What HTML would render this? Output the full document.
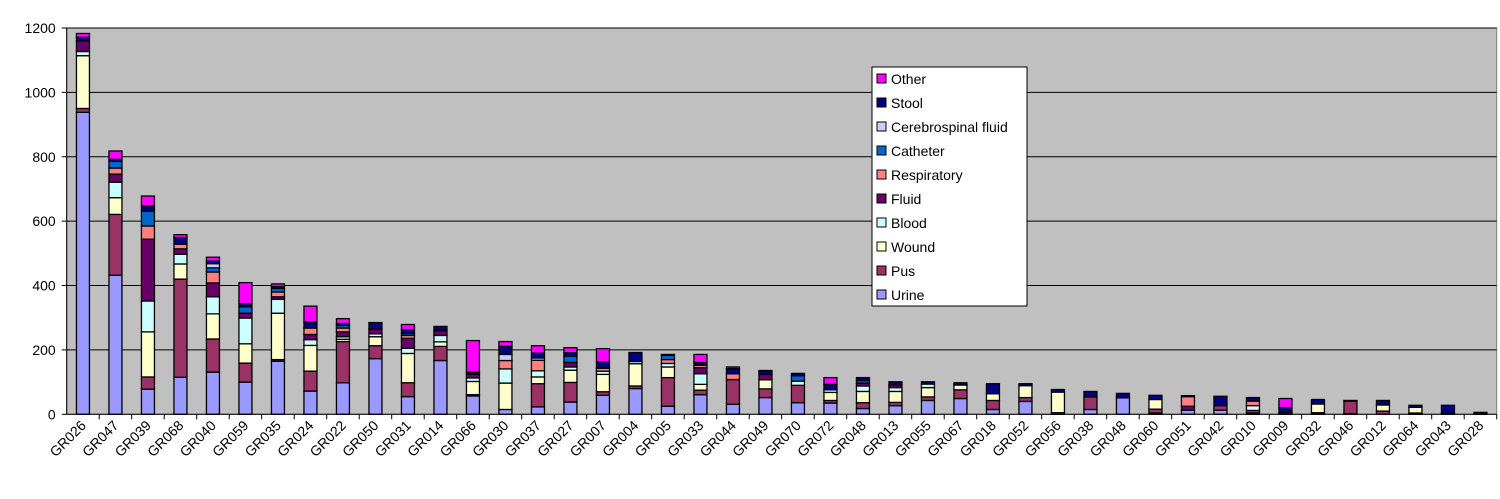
<!DOCTYPE html>
<html><head><meta charset="utf-8"><style>
body{margin:0;background:#fff;}
svg text{font-family:"Liberation Sans",Arial,sans-serif;font-size:14px;fill:#000;}
</style></head><body>
<svg id="chart" width="1500" height="494" viewBox="0 0 1500 494" xmlns="http://www.w3.org/2000/svg">
<rect x="66.7" y="28" width="1430" height="386.3" fill="#C0C0C0" stroke="#808080" stroke-width="1"/>
<g id="grid"></g><g id="bars"></g><g id="axes"></g><g id="legend"></g>
</svg>
<script>
const categories=["GR026","GR047","GR039","GR068","GR040","GR059","GR035","GR024","GR022","GR050","GR031","GR014","GR066","GR030","GR037","GR027","GR007","GR004","GR005","GR033","GR044","GR049","GR070","GR072","GR048","GR013","GR055","GR067","GR018","GR052","GR056","GR038","GR048","GR060","GR051","GR042","GR010","GR009","GR032","GR046","GR012","GR064","GR043","GR028"];
const seriesNames=["Urine","Pus","Wound","Blood","Fluid","Respiratory","Catheter","Cerebrospinal fluid","Stool","Other"];
const seriesColors=["#9999FF","#993366","#FFFFCC","#CCFFFF","#660066","#FF8080","#0066CC","#CCCCFF","#000080","#FF00FF"];
const urine=[938,432,78,115,131,100,165,72,98,173,55,167,57,15,23,38,59,80,25,61,31,52,36,35,18,27,43,49,15,40,5,15,51,4,13,13,4,5,0,2,0,4,0,0];
const pus=[12,189,38,305,103,59,5,62,128,40,43,44,4,0,72,61,11,8,89,14,77,27,54,8,18,10,11,27,28,12,0,39,0,12,0,14,8,0,5,39,10,0,3,0];
const wound=[164,52,140,47,78,60,144,80,7,28,91,14,41,82,21,38,54,69,33,18,0,28,0,25,35,34,29,15,21,37,64,0,0,30,0,0,0,0,27,0,19,18,0,0];
const blood=[13,48,96,30,53,80,43,18,8,9,16,20,11,44,19,10,10,7,11,33,0,0,13,8,17,12,11,0,0,0,0,0,0,0,0,0,15,0,0,0,0,0,0,0];
const fluid=[33,25,192,17,43,15,8,16,15,15,31,15,11,0,0,14,0,0,0,19,0,17,0,0,9,8,0,0,0,0,0,0,0,0,12,0,0,0,0,0,0,0,0,0];
const respiratory=[0,19,41,14,34,0,15,20,12,0,9,0,0,26,33,0,9,0,12,7,18,0,0,0,0,0,0,0,0,0,0,0,0,0,30,0,14,0,0,0,0,0,0,0];
const catheter=[0,21,46,0,13,20,11,0,8,0,6,0,0,0,0,20,0,0,13,0,0,0,17,0,8,0,0,0,0,0,0,0,0,0,0,0,0,0,0,0,0,0,0,0];
const csf=[0,0,0,0,13,0,0,0,0,0,0,0,0,19,7,0,0,0,0,0,0,0,0,0,0,0,0,0,0,0,0,0,0,0,0,0,0,0,0,0,0,0,0,0];
const stool=[11,6,16,21,8,10,6,19,6,20,12,13,7,25,15,10,20,28,0,9,16,10,7,17,9,10,7,7,31,6,8,17,14,13,3,29,11,16,14,2,14,6,25,6];
const other=[12,26,31,9,12,65,8,49,15,0,16,0,98,15,23,16,41,0,3,25,5,2,0,21,0,0,0,0,0,0,0,0,0,0,0,0,0,28,0,0,0,0,0,0];
const yTicks=[0,200,400,600,800,1000,1200];
const series=[urine,pus,wound,blood,fluid,respiratory,catheter,csf,stool,other];
const NS="http://www.w3.org/2000/svg";
const L=66.7,R=1496.7,T=28,B=414.3,yMax=1200;
const band=(R-L)/categories.length;
function y(v){return B-(v/yMax)*(B-T);}
function xc(i){return L+band*(i+0.5);}
function mk(t,a,p){const e=document.createElementNS(NS,t);for(const k in a)e.setAttribute(k,a[k]);p.appendChild(e);return e;}
const grid=document.getElementById('grid'),bars=document.getElementById('bars'),axes=document.getElementById('axes'),leg=document.getElementById('legend');
yTicks.forEach(v=>{
 if(v>0){const g=mk('line',{x1:L,x2:R,y1:y(v),y2:y(v),stroke:'#000','stroke-width':1},grid);
 
 }
 const tk=mk('line',{x1:L-5,x2:L,y1:y(v),y2:y(v),stroke:'#000'},axes);
 
 
 const t=mk('text',{x:L-11,y:y(v)+5,'text-anchor':'end'},axes);t.textContent=v;
 
 
});
const bw=13;
categories.forEach((c,i)=>{
 let cum=0;
 series.forEach((s,k)=>{
  const v=s[i];if(!v)return;
  const r=mk('rect',{x:xc(i)-bw/2,y:y(cum+v),width:bw,height:y(cum)-y(cum+v),fill:seriesColors[k],stroke:'#000','stroke-width':1.3},bars);
  
  
  cum+=v;
 });
 const tk=mk('line',{x1:L+band*(i+1),x2:L+band*(i+1),y1:B,y2:B+5,stroke:'#000'},axes);
 
 
 const t=mk('text',{x:xc(i)+4,y:B+12,'text-anchor':'end',transform:'rotate(-45 '+(xc(i)+4)+' '+(B+12)+')'},axes);
 t.textContent=c;
 
 
});
const ax=mk('line',{x1:L,x2:L,y1:T,y2:B,stroke:'#000'},axes);


const ax2=mk('line',{x1:L,x2:R,y1:B,y2:B,stroke:'#000'},axes);


const lb=mk('rect',{x:872,y:67,width:155,height:239,fill:'#fff',stroke:'#000'},leg);


for(let k=seriesNames.length-1,j=0;k>=0;k--,j++){
 const yy=79+j*24;
 const m=mk('rect',{x:877,y:yy-5,width:9,height:9,fill:seriesColors[k],stroke:'#000'},leg);
 
 
 const t=mk('text',{x:891,y:yy+5},leg);t.textContent=seriesNames[k];
 
 
}
</script>
</body></html>
